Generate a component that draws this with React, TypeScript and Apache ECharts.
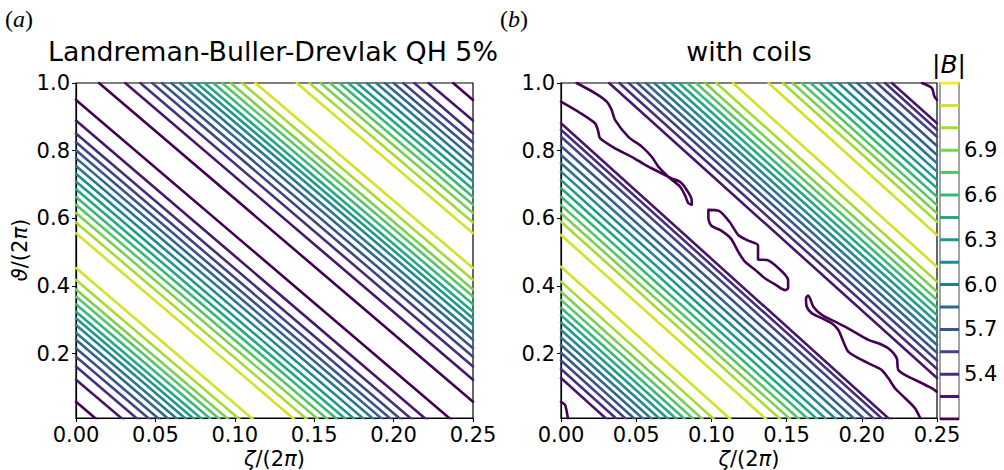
import React, { useEffect, useRef } from "react";
import * as echarts from "echarts";

// contour levels of |B| and colorbar ticks
const LEVELS = [5.1, 5.25, 5.4, 5.55, 5.7, 5.85, 6.0, 6.15, 6.3, 6.45, 6.6, 6.75, 6.9, 7.05, 7.2, 7.35];
const CBAR_TICKS = [5.4, 5.7, 6.0, 6.3, 6.6, 6.9];
const THETA_TICKS = [0.2, 0.4, 0.6, 0.8, 1.0];
const VIRIDIS = ["#440154", "#482475", "#414487", "#355f8d", "#2a788e", "#21918c", "#22a884", "#44bf70", "#7ad151", "#bddf26", "#fde725"];

// Panel (a): straight helical contours. level index, theta at zeta=0, zeta at theta=0
const A_LEVEL = [0, 1, 2, 3, 4, 5, 6, 7, 8, 9, 10, 11, 12, 13, 14, 14, 13, 12, 11, 10, 9, 8, 7, 6, 5, 4, 3, 2, 1, 0];
const A_LEFT = [0.058, 0.123, 0.162, 0.191, 0.216, 0.241, 0.262, 0.285, 0.305, 0.324, 0.346, 0.369, 0.390, 0.418, 0.453,
  0.556, 0.588, 0.616, 0.640, 0.663, 0.686, 0.709, 0.732, 0.755, 0.778, 0.801, 0.825, 0.851, 0.889, 0.950];
const A_BOTTOM = [0.0145, 0.031, 0.0405, 0.048, 0.054, 0.060, 0.0655, 0.071, 0.076, 0.081, 0.0865, 0.092, 0.0975, 0.1045, 0.113,
  0.139, 0.147, 0.154, 0.160, 0.166, 0.1715, 0.177, 0.183, 0.189, 0.1945, 0.200, 0.206, 0.213, 0.222, 0.2375];
// same contours one period later: zeta at theta=1, theta at zeta=0.25
const A_TOP = A_BOTTOM;
const A_RIGHT = A_LEFT;

// Panel (b): helical contours with coils
const B_LEVEL = [1, 2, 3, 4, 5, 6, 7, 8, 9, 10, 11, 12, 13, 14, 14, 13, 12, 11, 10, 9, 8, 7, 6, 5, 4, 3, 2, 1];
const B_LEFT = [0.128, 0.155, 0.180, 0.203, 0.226, 0.248, 0.270, 0.292, 0.314, 0.336, 0.359, 0.383, 0.413, 0.457,
  0.551, 0.590, 0.615, 0.639, 0.664, 0.689, 0.713, 0.738, 0.763, 0.787, 0.814, 0.841, 0.862, 0.881];
const B_BOTTOM = [0.032, 0.0388, 0.045, 0.0508, 0.0565, 0.062, 0.0675, 0.073, 0.0785, 0.084, 0.0898, 0.0958, 0.1033, 0.1143,
  0.138, 0.1475, 0.154, 0.160, 0.166, 0.172, 0.178, 0.1845, 0.191, 0.197, 0.2035, 0.210, 0.2155, 0.220];
const B_TOP = B_BOTTOM;
const B_RIGHT = B_LEFT;

// lowest level (5.1) pockets in panel (b)
const B_TONGUE1: [number, number][] = [[0, 0.945], [0.0115, 0.915], [0.0226, 0.881], [0.0248, 0.856], [0.0259, 0.837], [0.0359, 0.807], [0.047, 0.782], [0.0559, 0.758], [0.0647, 0.738], [0.0736, 0.718], [0.0791, 0.708], [0.0836, 0.684], [0.0869, 0.654], [0.0869, 0.640], [0.0846, 0.645], [0.0824, 0.669], [0.0791, 0.694], [0.0713, 0.723], [0.0647, 0.753], [0.0603, 0.782], [0.0537, 0.812], [0.0448, 0.841], [0.0359, 0.891], [0.0337, 0.920], [0.0304, 0.945], [0.0226, 0.970], [0.0104, 1.0]];
const B_ISLAND2: [number, number][] = [[0.098, 0.625], [0.105, 0.622], [0.112, 0.59], [0.118, 0.55], [0.124, 0.535], [0.131, 0.52], [0.131, 0.478], [0.137, 0.477], [0.1445, 0.453], [0.151, 0.418], [0.151, 0.394], [0.149, 0.388], [0.143, 0.403], [0.1356, 0.423], [0.129, 0.448], [0.1223, 0.472], [0.118, 0.50], [0.113, 0.54], [0.106, 0.565], [0.100, 0.578], [0.098, 0.60], [0.098, 0.625]];
const B_TONGUE3: [number, number][] = [[0.2498, 0.088], [0.2465, 0.098], [0.2376, 0.118], [0.2309, 0.132], [0.2243, 0.152], [0.2232, 0.187], [0.2176, 0.216], [0.211, 0.231], [0.2043, 0.241], [0.1955, 0.263], [0.1888, 0.280], [0.1811, 0.297], [0.1733, 0.315], [0.1678, 0.339], [0.1644, 0.372], [0.1629, 0.364], [0.1634, 0.339], [0.1667, 0.320], [0.1733, 0.305], [0.180, 0.290], [0.1844, 0.270], [0.1877, 0.236], [0.191, 0.206], [0.1977, 0.187], [0.2066, 0.167], [0.2132, 0.152], [0.2176, 0.128], [0.2221, 0.098], [0.2287, 0.069], [0.2354, 0.039], [0.2398, 0.0]];
const B_CORNER_BL: [number, number][] = [[0, 0.058], [0.0027, 0.049], [0.0038, 0.029], [0.0049, 0.0]];
const B_CORNER_TR: [number, number][] = [[0.24, 1.0], [0.2466, 0.985], [0.2483, 0.96], [0.25, 0.95]];

function levelColor(i: number): string {
  const t = (i / (LEVELS.length - 1)) * (VIRIDIS.length - 1);
  const k = Math.min(Math.floor(t), VIRIDIS.length - 2);
  const f = t - k;
  const a = VIRIDIS[k], b = VIRIDIS[k + 1];
  const ch = (s: string, o: number) => parseInt(s.slice(o, o + 2), 16);
  const mix = (o: number) => Math.round(ch(a, o) * (1 - f) + ch(b, o) * f);
  return `rgb(${mix(1)},${mix(3)},${mix(5)})`;
}

const FONT = "DejaVu Sans";

export default function App() {
  const ref = useRef<HTMLDivElement>(null);
  useEffect(() => {
    if (!ref.current) return;
    const chart = echarts.init(ref.current, undefined, { renderer: "svg" });
    const series: any[] = [];
    const addLine = (pts: [number, number][], lvl: number, ax: number, smooth = 0) => {
      series.push({
        type: "line", xAxisIndex: ax, yAxisIndex: ax, data: pts, showSymbol: false, symbol: "none",
        clip: true, silent: true, z: 2, smooth,
        lineStyle: { color: levelColor(lvl), width: 2.6, cap: "round", join: "round" },
      });
    };
    A_LEFT.forEach((u, i) => {
      addLine([[0, u], [A_BOTTOM[i], 0]], A_LEVEL[i], 0);
      addLine([[A_TOP[i], 1], [0.25, A_RIGHT[i]]], A_LEVEL[i], 0);
    });
    B_LEFT.forEach((u, i) => {
      addLine([[0, u], [B_BOTTOM[i], 0]], B_LEVEL[i], 1);
      addLine([[B_TOP[i], 1], [0.25, B_RIGHT[i]]], B_LEVEL[i], 1);
    });
    [B_TONGUE1, B_ISLAND2, B_TONGUE3, B_CORNER_BL, B_CORNER_TR].forEach((p) => addLine(p, 0, 1, 0.25));
    LEVELS.forEach((L, i) => {
      series.push({
        type: "line", xAxisIndex: 2, yAxisIndex: 2, data: [[0, L], [1, L]], showSymbol: false, symbol: "none",
        clip: true, silent: true, lineStyle: { color: levelColor(i), width: 3 },
      });
    });

    const tickLabel = { fontSize: 21, color: "#000", fontFamily: FONT };
    const xAxis = (gi: number) => ({
      gridIndex: gi, type: "value", min: 0, max: 0.25, interval: 0.05,
      axisLine: { show: true, onZero: false, lineStyle: { color: "#000", width: 1.2 } },
      axisTick: { show: true, length: 4, lineStyle: { color: "#000" } },
      axisLabel: { ...tickLabel, margin: 6, formatter: (v: number) => v.toFixed(2) },
      splitLine: { show: false },
    });
    const yAxis = (gi: number) => ({
      gridIndex: gi, type: "value", min: 0.01, max: 1,
      axisLine: { show: true, onZero: false, lineStyle: { color: "#000", width: 1.2 } },
      axisTick: { show: true, length: 4, customValues: THETA_TICKS, lineStyle: { color: "#000" } },
      axisLabel: { ...tickLabel, margin: 6, customValues: THETA_TICKS, formatter: (v: number) => v.toFixed(1) },
      splitLine: { show: false },
    });

    const ital = { fontStyle: "italic", fontFamily: FONT };
    chart.setOption({
      animation: false,
      grid: [
        { left: 76, top: 83, width: 397, height: 335, show: true, borderColor: "#000", borderWidth: 1.2 },
        { left: 561, top: 83, width: 376, height: 335, show: true, borderColor: "#000", borderWidth: 1.2 },
        { left: 940, top: 83, width: 19, height: 336, show: true, borderColor: "#8c8c8c", borderWidth: 1.6 },
      ],
      xAxis: [xAxis(0), xAxis(1), { gridIndex: 2, type: "value", min: 0, max: 1, show: false }],
      yAxis: [yAxis(0), yAxis(1), {
        gridIndex: 2, type: "value", min: LEVELS[0], max: LEVELS[LEVELS.length - 1], position: "right",
        axisLine: { show: false },
        axisTick: { show: true, length: 4, customValues: CBAR_TICKS, lineStyle: { color: "#000" } },
        axisLabel: { ...tickLabel, margin: 5, customValues: CBAR_TICKS, formatter: (v: number) => v.toFixed(1) },
        splitLine: { show: false },
      }],
      series,
      graphic: [
        { type: "text", x: 5, y: 19, style: { text: "({i|a})", font: "24px 'Liberation Serif'", fill: "#000", verticalAlign: "middle", rich: { i: { fontStyle: "italic", fontSize: 24, fontFamily: "Liberation Serif" } } } },
        { type: "text", x: 500, y: 19, style: { text: "({i|b})", font: "24px 'Liberation Serif'", fill: "#000", verticalAlign: "middle", rich: { i: { fontStyle: "italic", fontSize: 24, fontFamily: "Liberation Serif" } } } },
        { type: "text", x: 273, y: 51, style: { text: "Landreman-Buller-Drevlak QH 5%", font: `26.8px '${FONT}'`, fill: "#000", align: "center", verticalAlign: "middle" } },
        { type: "text", x: 749, y: 51, style: { text: "with coils", font: `26.8px '${FONT}'`, fill: "#000", align: "center", verticalAlign: "middle" } },
        { type: "text", x: 949, y: 64, style: { text: "|{i|B}|", font: `25px '${FONT}'`, fill: "#000", align: "center", verticalAlign: "middle", rich: { i: { ...ital, fontSize: 25 } } } },
        { type: "text", x: 274.5, y: 459, style: { text: "{i|ζ}/(2{i|π})", font: `21px '${FONT}'`, fill: "#000", align: "center", verticalAlign: "middle", rich: { i: { ...ital, fontSize: 21 } } } },
        { type: "text", x: 749, y: 459, style: { text: "{i|ζ}/(2{i|π})", font: `21px '${FONT}'`, fill: "#000", align: "center", verticalAlign: "middle", rich: { i: { ...ital, fontSize: 21 } } } },
        { type: "text", x: 20, y: 250, rotation: Math.PI / 2, style: { text: "{i|ϑ}/(2{i|π})", font: `21px '${FONT}'`, fill: "#000", align: "center", verticalAlign: "middle", rich: { i: { ...ital, fontSize: 21 } } } },
      ],
    });
    return () => chart.dispose();
  }, []);
  return <div ref={ref} style={{ position: "fixed", left: 0, top: 0, width: 1004, height: 470, background: "#fff" }} />;
}
